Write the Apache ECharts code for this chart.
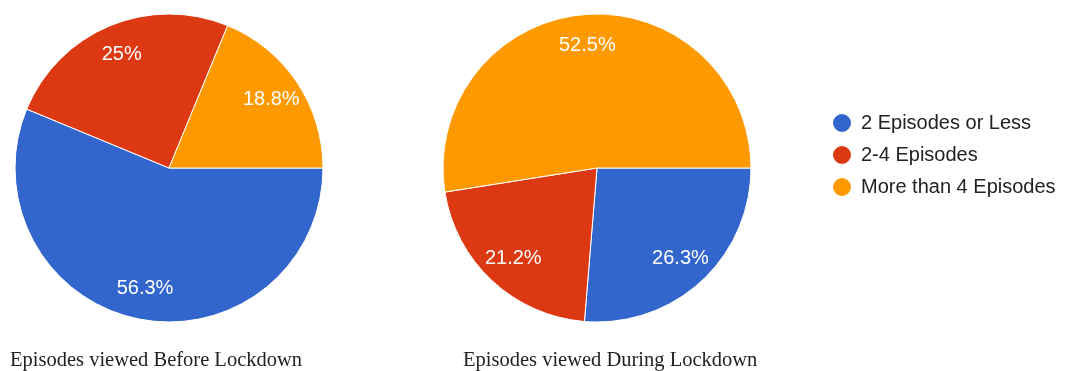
<!DOCTYPE html>
<html>
<head>
<meta charset="utf-8">
<script src="https://cdn.jsdelivr.net/npm/echarts@6/dist/echarts.min.js"></script>
<style>
html,body{margin:0;padding:0;background:#fff;}
#chart{width:1065px;height:371px;}
</style>
</head>
<body>
<div id="chart"></div>
<script>
const categories = ['2 Episodes or Less', '2-4 Episodes', 'More than 4 Episodes'];
const beforeValues = [56.3, 25, 18.8];
const duringValues = [26.3, 21.2, 52.5];
const chartTitles = ['Episodes viewed Before Lockdown', 'Episodes viewed During Lockdown'];
const colors = ['#3366cc', '#dc3912', '#ff9900'];

function toData(vals) {
  return categories.map((c, i) => ({ name: c, value: vals[i] }));
}

const R = 154;
function pieSeries(vals, center) {
  return [
    {
      type: 'pie',
      center: center,
      radius: [0, R],
      startAngle: 0,
      clockwise: true,
      silent: true,
      label: { show: false },
      labelLine: { show: false },
      itemStyle: { borderColor: '#ffffff', borderWidth: 1 },
      data: toData(vals)
    },
    {
      type: 'pie',
      center: center,
      radius: [R * 0.56, R],
      startAngle: 0,
      clockwise: true,
      silent: true,
      legendHoverLink: false,
      itemStyle: { color: 'transparent', borderWidth: 0 },
      label: {
        show: true,
        position: 'inside',
        formatter: p => p.value + '%',
        color: '#ffffff',
        fontSize: 20,
        fontFamily: 'Liberation Sans, Arial, sans-serif'
      },
      labelLine: { show: false },
      data: toData(vals)
    }
  ];
}

const titleStyle = { fontFamily: 'Liberation Serif, Times New Roman, serif', fontSize: 20.5, fontWeight: 'normal', color: '#222' };

const chart = echarts.init(document.getElementById('chart'), null, { renderer: 'canvas' });
chart.setOption({
  animation: false,
  color: colors,
  title: [
    { text: chartTitles[0], left: 5, top: 345, textStyle: titleStyle },
    { text: chartTitles[1], left: 458, top: 345, textStyle: titleStyle }
  ],
  legend: {
    orient: 'vertical',
    left: 826,
    top: 107,
    icon: 'circle',
    itemWidth: 20,
    itemHeight: 20,
    itemGap: 10,
    data: categories,
    selectedMode: false,
    textStyle: { fontSize: 20, fontFamily: 'Liberation Sans, Arial, sans-serif', color: '#222', padding: [0, 0, 0, 4] }
  },
  series: [
    ...pieSeries(beforeValues, [169, 168]),
    ...pieSeries(duringValues, [597, 168])
  ]
});
</script>
</body>
</html>
